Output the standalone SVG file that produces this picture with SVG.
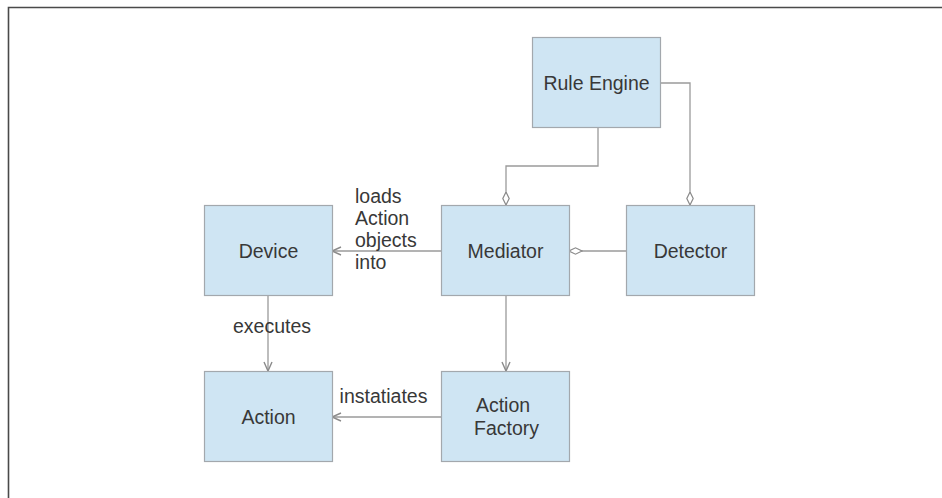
<svg xmlns="http://www.w3.org/2000/svg" width="942" height="498" viewBox="0 0 942 498">
  <style>
    .box { fill: #cfe5f3; stroke: #a3a8ad; stroke-width: 1.2; }
    .lbl { font-family: "Liberation Sans", Arial, sans-serif; font-size: 19.5px; fill: #383838; }
    .mid { text-anchor: middle; }
    .line { fill: none; stroke: #9a9a9a; stroke-width: 1.3; }
  </style>
  <defs>
    <marker id="open" viewBox="0 0 10 10" refX="10" refY="5" markerWidth="10" markerHeight="10" markerUnits="userSpaceOnUse" orient="auto">
      <path d="M1,1 L10,5 L1,9" fill="none" stroke="#8a8a8a" stroke-width="1.4"/>
    </marker>
    <marker id="diamond" viewBox="0 0 14 8" refX="13.5" refY="4" markerWidth="14" markerHeight="8" markerUnits="userSpaceOnUse" orient="auto">
      <path d="M0.5,4 L7,0.8 L13.5,4 L7,7.2 Z" fill="#ffffff" stroke="#8a8a8a" stroke-width="1.2"/>
    </marker>
  </defs>

  <rect width="942" height="498" fill="#ffffff"/>
  <!-- frame -->
  <path d="M8.5,498 L8.5,7.5 L942,7.5" fill="none" stroke="#4a4a4a" stroke-width="1.6"/>

  <g id="connectors">
    <path class="line" d="M598,127 L598,166 L506,166 L506,205" marker-end="url(#diamond)"/>
    <path class="line" d="M660,83 L690,83 L690,205" marker-end="url(#diamond)"/>
    <path class="line" d="M626,251 L569,251" marker-end="url(#diamond)"/>
    <path class="line" d="M441,251 L332,251" marker-end="url(#open)"/>
    <path class="line" d="M268,295 L268,371" marker-end="url(#open)"/>
    <path class="line" d="M506,295 L506,371" marker-end="url(#open)"/>
    <path class="line" d="M441,417 L332,417" marker-end="url(#open)"/>
    <text class="lbl" x="355" y="203">loads</text>
    <text class="lbl" x="355" y="225">Action</text>
    <text class="lbl" x="355" y="247">objects</text>
    <text class="lbl" x="355" y="269">into</text>
    <text class="lbl mid" x="272" y="333">executes</text>
    <text class="lbl mid" x="383.5" y="403">instatiates</text>
  </g>

  <g id="rule-engine">
    <rect class="box" x="532.5" y="37.5" width="128" height="90"/>
    <text class="lbl mid" x="596.5" y="90">Rule Engine</text>
  </g>
  <g id="device">
    <rect class="box" x="204.5" y="205.5" width="128" height="90"/>
    <text class="lbl mid" x="268.5" y="258">Device</text>
  </g>
  <g id="mediator">
    <rect class="box" x="441.5" y="205.5" width="128" height="90"/>
    <text class="lbl mid" x="505.5" y="258">Mediator</text>
  </g>
  <g id="detector">
    <rect class="box" x="626.5" y="205.5" width="128" height="90"/>
    <text class="lbl mid" x="690.5" y="258">Detector</text>
  </g>
  <g id="action">
    <rect class="box" x="204.5" y="371.5" width="128" height="90"/>
    <text class="lbl mid" x="268.5" y="424">Action</text>
  </g>
  <g id="action-factory">
    <rect class="box" x="441.5" y="371.5" width="128" height="90"/>
    <text class="lbl mid" x="503" y="412">Action</text>
    <text class="lbl mid" x="506.5" y="435">Factory</text>
  </g>
</svg>
